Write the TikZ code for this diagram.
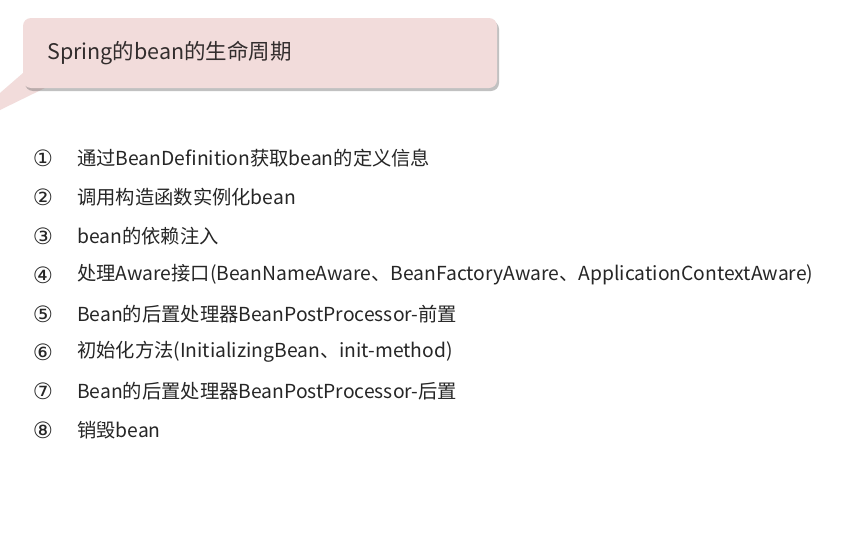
\documentclass[tikz,border=0pt]{standalone}
\usepackage{fontspec}
\setmainfont{Noto Sans CJK SC}
\newfontfamily\circfont{DejaVu Sans}
\usetikzlibrary{shadows}
\definecolor{bannerpink}{RGB}{242,220,219}
\definecolor{txt}{RGB}{38,38,38}
\definecolor{titletxt}{RGB}{50,45,45}
\tikzset{
  num/.style={anchor=center,inner sep=0pt,text=txt,font=\circfont\fontsize{22.5pt}{22.5pt}\selectfont},
  item/.style={anchor=west,inner sep=0pt,text=txt,font=\fontsize{19.3pt}{19.3pt}\selectfont},
  banner/.style={fill=bannerpink,draw=none,rounded corners=8pt,drop shadow={shadow xshift=2pt,shadow yshift=-3pt,opacity=0.4,fill=black!60}},
}
\begin{document}
\begin{tikzpicture}[x=1pt,y=-1pt]
\useasboundingbox (0,0) rectangle (841,533);
\fill[white] (0,0) rectangle (841,533);
% tail
\fill[bannerpink] (23,73) -- (0,93) -- (0,110) -- (45,88) -- cycle;
\path[banner] (23,18) rectangle (497,88);
\node[anchor=west,inner sep=0pt,text=titletxt,font=\fontsize{21.5pt}{21.5pt}\selectfont] (title) at (47,53) {Spring的bean的生命周期};
\node[num] (n1) at (43,158) {①};
\node[item] (t1) at (77,158) {通过BeanDefinition获取bean的定义信息};
\node[num] (n2) at (43,197) {②};
\node[item] (t2) at (77,197) {调用构造函数实例化bean};
\node[num] (n3) at (43,236) {③};
\node[item] (t3) at (77,236) {bean的依赖注入};
\node[num] (n4) at (43,275) {④};
\node[item] (t4) at (77,275) {处理Aware接口(BeanNameAware、BeanFactoryAware、ApplicationContextAware)};
\node[num] (n5) at (43,314) {⑤};
\node[item] (t5) at (77,314) {Bean的后置处理器BeanPostProcessor-前置};
\node[num] (n6) at (43,352) {⑥};
\node[item] (t6) at (77,352) {初始化方法(InitializingBean、init-method)};
\node[num] (n7) at (43,391) {⑦};
\node[item] (t7) at (77,391) {Bean的后置处理器BeanPostProcessor-后置};
\node[num] (n8) at (43,430) {⑧};
\node[item] (t8) at (77,430) {销毁bean};
\end{tikzpicture}
\end{document}
